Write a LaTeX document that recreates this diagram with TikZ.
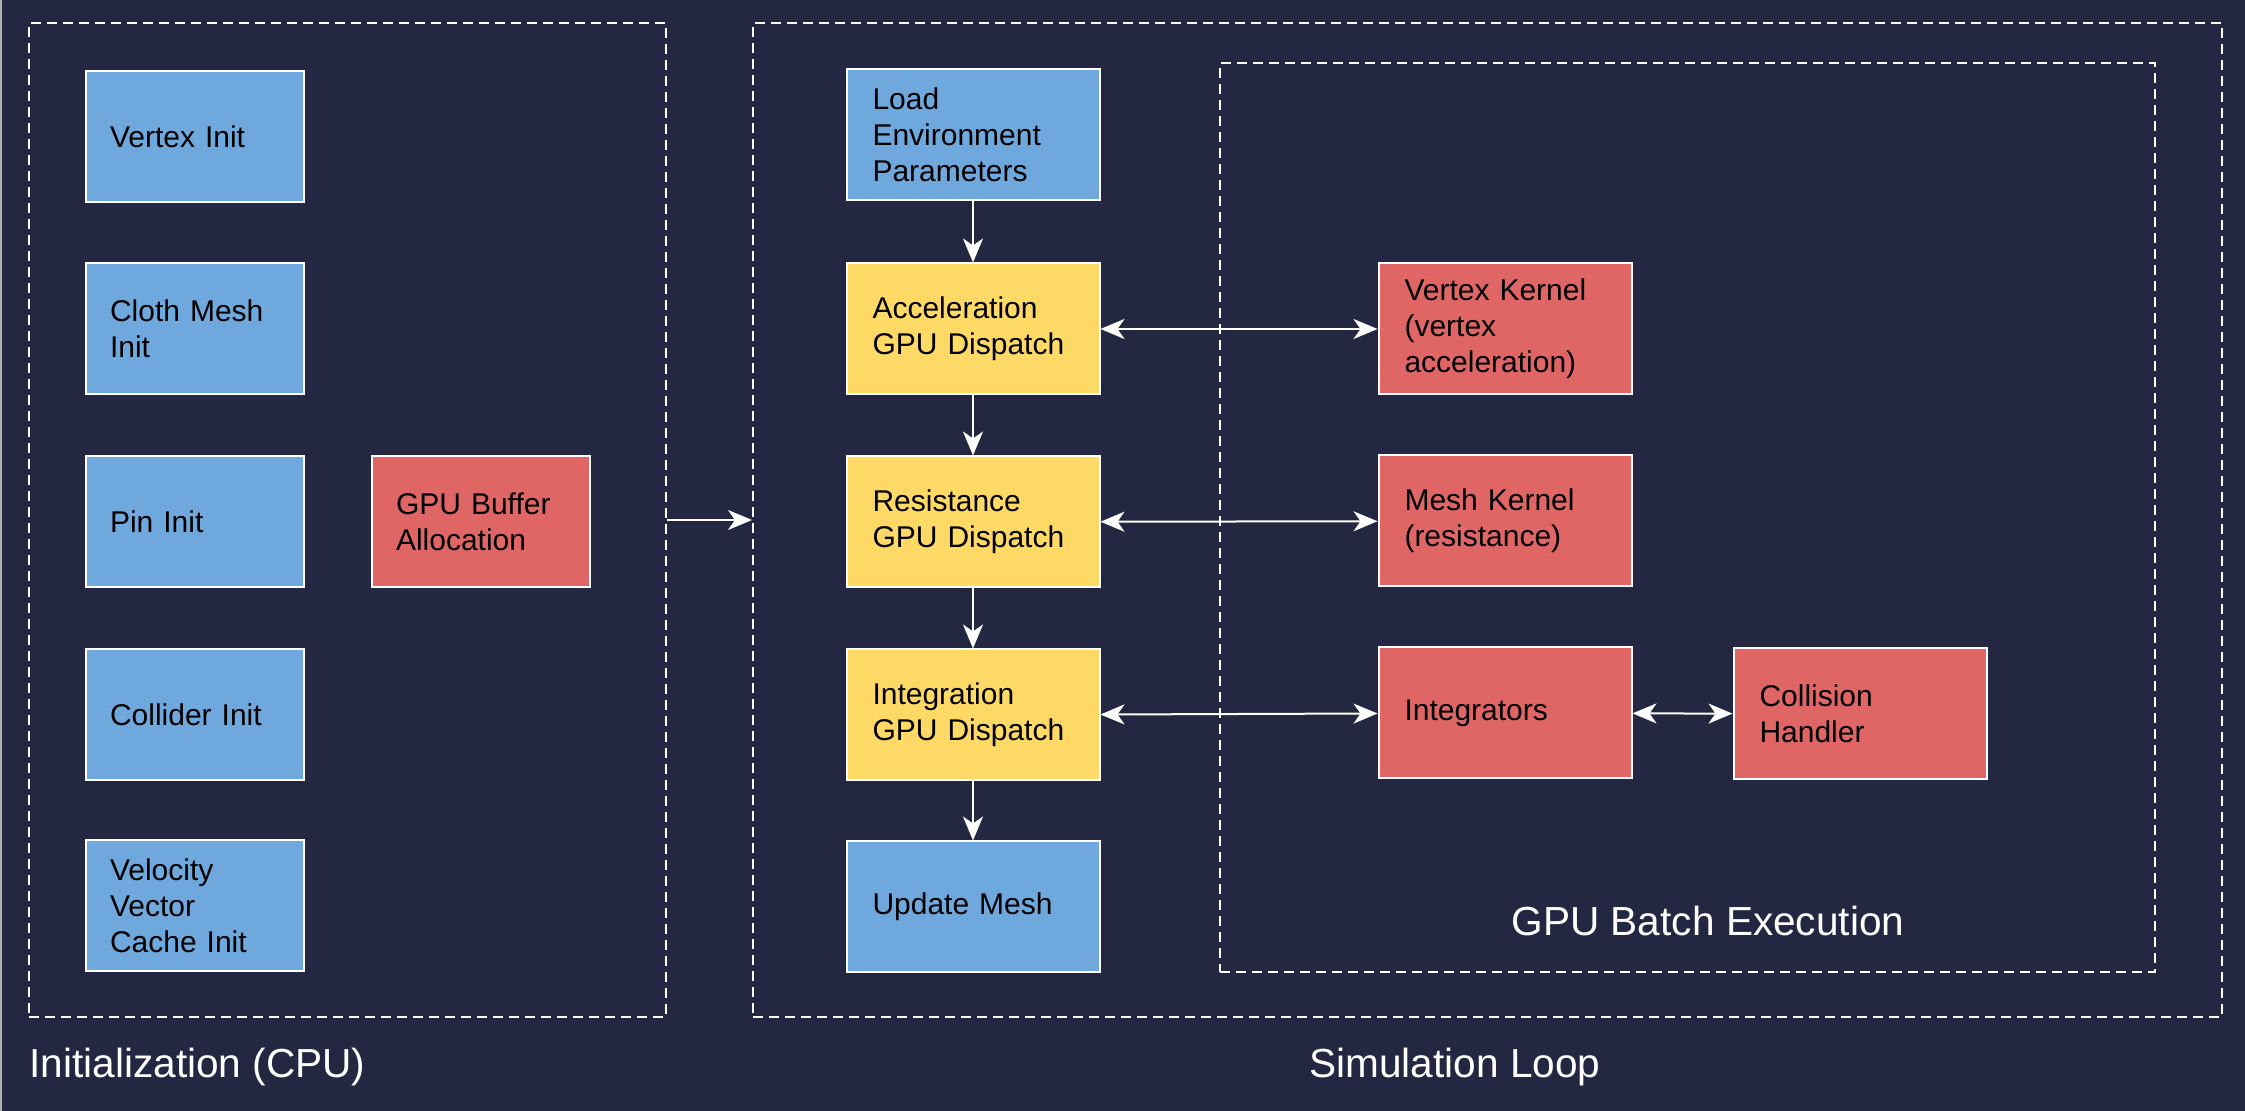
\documentclass[tikz,border=0pt]{standalone}
\usepackage{fontspec}
\setmainfont{Liberation Sans}
\usetikzlibrary{arrows.meta}

\definecolor{bgnavy}{HTML}{232742}
\definecolor{cpublue}{HTML}{6FA8DC}
\definecolor{dispyellow}{HTML}{FFD966}
\definecolor{kernred}{HTML}{E06666}

\begin{document}
\begin{tikzpicture}[x=0.5pt, y=-0.5pt,
    box/.style={draw=white, line width=1pt, minimum width=109pt, minimum height=65.5pt,
      text width=109pt, inner xsep=0pt, inner ysep=0pt, align=left, text=black,
      font=\fontsize{15}{18}\selectfont, execute at begin node={\leftskip=12pt}},
    wide/.style={minimum width=126.5pt, text width=126.5pt, execute at begin node={\leftskip=13pt}},
    cpu/.style={box, fill=cpublue},
    disp/.style={box, fill=dispyellow},
    kern/.style={box, fill=kernred},
    group/.style={draw=white, line width=1pt, dash pattern=on 5pt off 3pt, inner sep=0pt},
    title/.style={text=white, font=\fontsize{20.3}{24}\selectfont, inner sep=0pt},
    flow/.style={draw=white, line width=1pt, -{Stealth[length=12pt, width=10pt, inset=3.5pt]}},
    both/.style={flow, {Stealth[length=12pt, width=10pt, inset=3.5pt]}-{Stealth[length=12pt, width=10pt, inset=3.5pt]}}]

    \useasboundingbox (0,0) rectangle (2245,1111);
    \fill[bgnavy] (0,0) rectangle (2245,1111);
    \draw[gray!60, line width=1pt] (1,0) -- (1,1111);

    % groups
    \node[group, minimum width=318.5pt, minimum height=497pt] (init) at (347.5,520) {};
    \node[group, minimum width=734.5pt, minimum height=497pt] (loop) at (1487.5,520) {};
    \node[group, minimum width=467.5pt, minimum height=454.5pt] (batch) at (1687.5,517.5) {};

    \node[title, anchor=west] (initlbl) at (29,1067) {Initialization (CPU)};
    \node[title] (looplbl) at (1455,1067) {Simulation Loop};
    \node[title] (batchlbl) at (1708,921) {GPU Batch Execution};

    % CPU side
    \node[cpu] (vinit) at (195,137) {Vertex Init};
    \node[cpu] (cinit) at (195,329) {Cloth Mesh\\Init};
    \node[cpu] (pinit) at (195,522) {Pin Init};
    \node[cpu] (colinit) at (195,715) {Collider Init};
    \node[cpu] (velinit) at (195,906) {Velocity\\Vector\\Cache Init};
    \node[kern] (gpubuf) at (481,522) {GPU Buffer\\Allocation};

    % loop
    \node[cpu, wide] (loadenv) at (973,135) {Load\\Environment\\Parameters};
    \node[disp, wide] (accdisp) at (973,329) {Acceleration\\GPU Dispatch};
    \node[disp, wide] (resdisp) at (973,522) {Resistance\\GPU Dispatch};
    \node[disp, wide] (intdisp) at (973,715) {Integration\\GPU Dispatch};
    \node[cpu, wide] (updmesh) at (973,907) {Update Mesh};

    % kernels
    \node[kern, wide] (vkern) at (1505,329) {Vertex Kernel\\(vertex\\acceleration)};
    \node[kern, wide] (mkern) at (1505,521) {Mesh Kernel\\(resistance)};
    \node[kern, wide] (integ) at (1505,713) {Integrators};
    \node[kern, wide] (collide) at (1860,714) {Collision\\Handler};

    \draw[flow] (init) -- (loop);
    \draw[flow] (loadenv) -- (accdisp);
    \draw[flow] (accdisp) -- (resdisp);
    \draw[flow] (resdisp) -- (intdisp);
    \draw[flow] (intdisp) -- (updmesh);
    \draw[both] (accdisp) -- (vkern);
    \draw[both] (resdisp) -- (mkern);
    \draw[both] (intdisp) -- (integ);
    \draw[both] (integ) -- (collide);
\end{tikzpicture}
\end{document}
